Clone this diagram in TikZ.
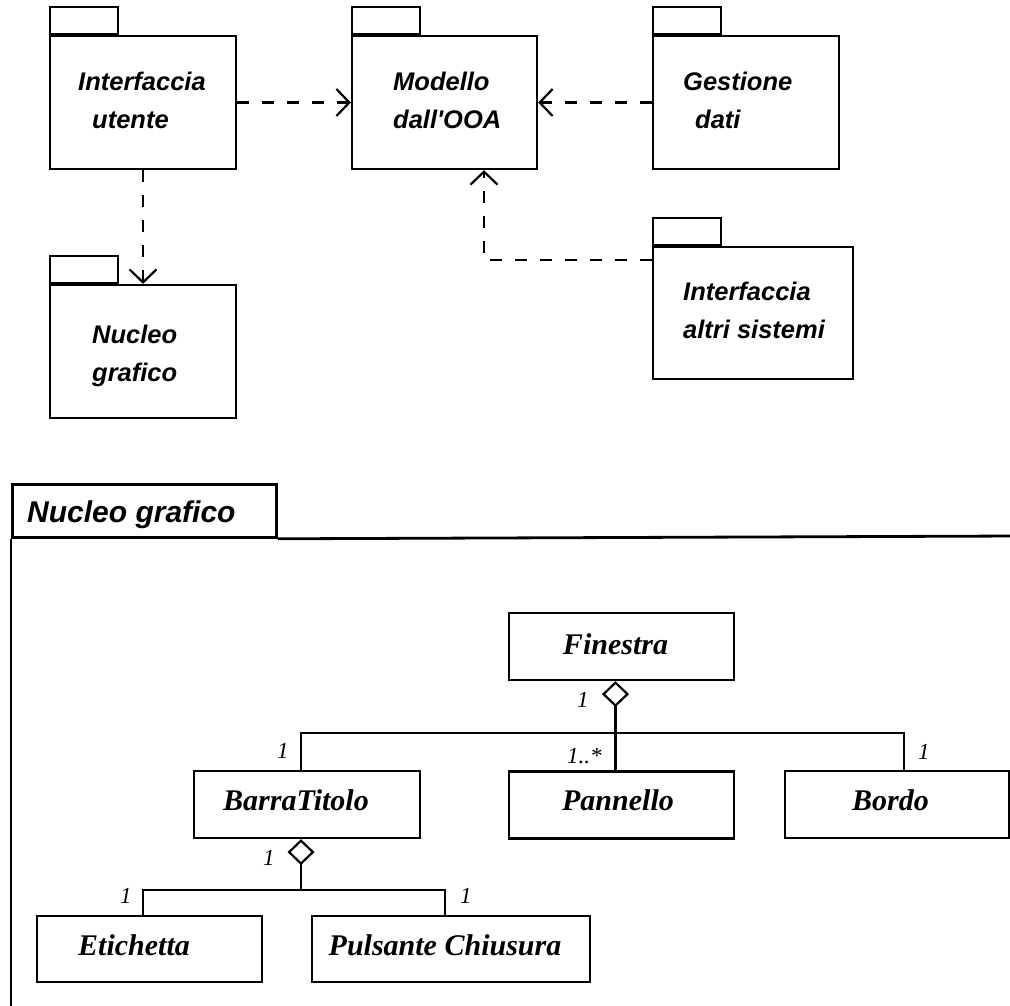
\documentclass[tikz,border=0pt]{standalone}
\usepackage{fontspec}
\setmainfont{Liberation Serif}
\newfontfamily\pkgfont{Liberation Sans}
\usetikzlibrary{arrows.meta,calc}
\begin{document}
\begin{tikzpicture}[x=1pt,y=-1pt,
  pkg/.style={draw, line width=2.2pt, inner sep=0, minimum height=133pt},
  pkgtab/.style={draw, line width=2.2pt, inner sep=0, minimum width=68pt, minimum height=27pt, anchor=south west},
  pkgtxt/.style={inner sep=0, anchor=base west, font=\pkgfont\bfseries\itshape\fontsize{25.5}{30}\selectfont},
  cls/.style={draw, line width=2.2pt, inner sep=0, minimum height=67pt},
  clstxt/.style={inner sep=0, anchor=base, font=\rmfamily\bfseries\itshape\fontsize{30}{36}\selectfont},
  mult/.style={inner sep=0, anchor=base west, font=\rmfamily\itshape\fontsize{23}{28}\selectfont},
  dep/.style={line width=2.2pt, dash pattern=on 12pt off 13pt,
    -{Straight Barb[length=13pt,width=27pt,line width=2.2pt]}},
  link/.style={line width=2.2pt},
  aggr/.style={line width=2.2pt, {Diamond[open,length=26pt,width=27pt,line width=2.2pt]}-},
  framepen/.style={line width=2.8pt}]
\useasboundingbox (0,0) rectangle (1010,1005);

% ---- package diagram ----
\node[pkg, minimum width=186pt] (iu) at (143,102.5) {};
\node[pkgtab] (iutab) at (iu.north west) {};
\node[pkgtxt] (iu1) at (78,90) {Interfaccia};
\node[pkgtxt] (iu2) at (92,128) {utente};

\node[pkg, minimum width=185pt] (mod) at (444.5,102.5) {};
\node[pkgtab] (modtab) at (mod.north west) {};
\node[pkgtxt] (mod1) at (393,90) {Modello};
\node[pkgtxt] (mod2) at (393,128) {dall'OOA};

\node[pkg, minimum width=186pt] (gd) at (746,102.5) {};
\node[pkgtab] (gdtab) at (gd.north west) {};
\node[pkgtxt] (gd1) at (683,90) {Gestione};
\node[pkgtxt] (gd2) at (695,128) {dati};

\node[pkg, minimum width=200pt, minimum height=132pt] (ias) at (753,313) {};
\node[pkgtab] (iastab) at (ias.north west) {};
\node[pkgtxt] (ias1) at (683,300) {Interfaccia};
\node[pkgtxt] (ias2) at (683,338) {altri sistemi};

\node[pkg, minimum width=186pt] (ng) at (143,351.5) {};
\node[pkgtab] (ngtab) at (ng.north west) {};
\node[pkgtxt] (ng1) at (92,343) {Nucleo};
\node[pkgtxt] (ng2) at (92,381) {grafico};

\draw[dep] (iu.east) -- (mod.west);
\draw[dep] (gd.west) -- (mod.east);
\draw[dep] (iu.south) -- (ng.north);
\coordinate (k) at (484,260);
\draw[dep] (ias.west |- k) -- (k) -- (k |- mod.south);

% ---- frame of the package contents ----
\node[draw, framepen, inner sep=0, minimum width=264pt, minimum height=53pt, anchor=north west] (ftab) at (11,483) {};
\node[inner sep=0, anchor=base west, font=\pkgfont\bfseries\itshape\fontsize{30}{35}\selectfont] (ftitle) at (27,522) {Nucleo grafico};
\draw[framepen] (ftab.south west) -- (ftab.south west |- 0,1010);
\draw[framepen] (ftab.south east) -- (1015,536);

% ---- classes ----
\node[cls, minimum width=225pt] (fin) at (621.5,646.5) {};
\node[clstxt] (fint) at (615.5,654) {Finestra};

\node[cls, minimum width=226pt] (bt) at (307,804.5) {};
\node[clstxt] (btt) at (296,810) {BarraTitolo};

\node[cls, minimum width=225pt] (pan) at (621.5,805) {};
\node[clstxt] (pant) at (618,810) {Pannello};

\node[cls, minimum width=224pt] (bor) at (897,804.5) {};
\node[clstxt] (bort) at (890.5,810) {Bordo};

\node[cls, minimum width=225pt, minimum height=66pt] (et) at (149.5,949) {};
\node[clstxt] (ett) at (134,955) {Etichetta};

\node[cls, minimum width=278pt, minimum height=66pt] (pc) at (451,949) {};
\node[clstxt] (pct) at (445,955) {Pulsante Chiusura};

% ---- aggregations ----
\coordinate (j1) at (615.5,733);
\draw[aggr] (j1 |- fin.south) -- (j1 |- pan.north);
\draw[link] ($(bt.north)+(-6,0)$) |- (j1) -| ($(bor.north)+(7,0)$);

\coordinate (j2) at (301,890);
\draw[aggr] (j2 |- bt.south) -- (j2);
\draw[link] ($(et.north)+(-6.5,0)$) |- (j2) -| ($(pc.north)+(-6,0)$);

% ---- multiplicities ----
\node[mult] (m1) at (577,707) {1};
\node[mult] (m2) at (277,758) {1};
\node[mult] (m3) at (567,763) {1..*};
\node[mult] (m4) at (918,759) {1};
\node[mult] (m5) at (263,865) {1};
\node[mult] (m6) at (120,903) {1};
\node[mult] (m7) at (460,903) {1};
\end{tikzpicture}
\end{document}
